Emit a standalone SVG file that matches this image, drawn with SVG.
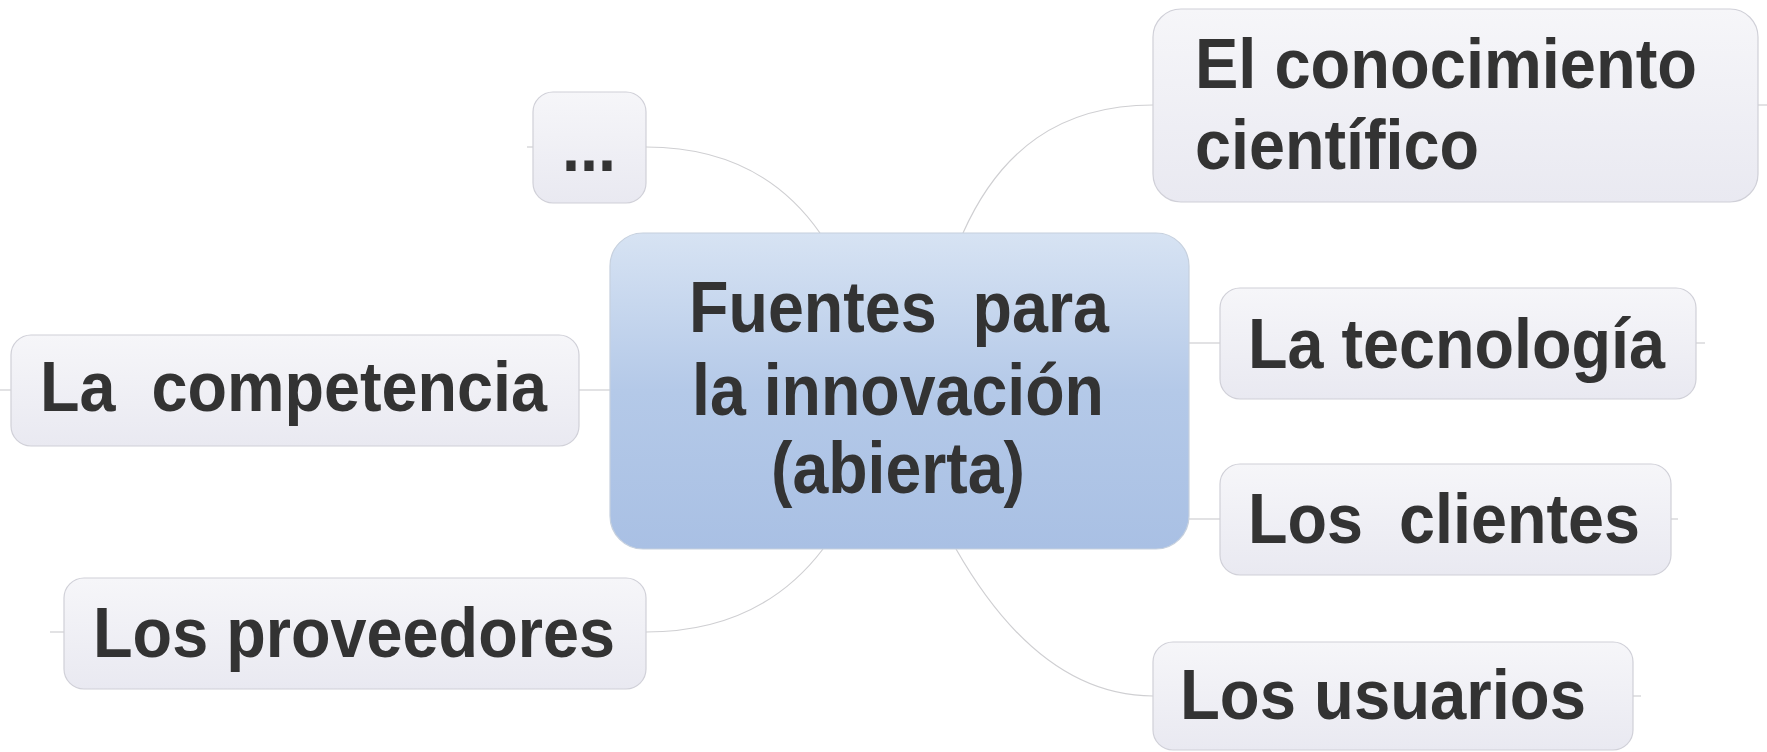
<svg xmlns="http://www.w3.org/2000/svg" width="1767" height="752" viewBox="0 0 1767 752">
<defs>
<linearGradient id="gNode" x1="0" y1="0" x2="0" y2="1">
<stop offset="0" stop-color="#f6f6f9"/>
<stop offset="1" stop-color="#e9e9f1"/>
</linearGradient>
<linearGradient id="gCenter" x1="0" y1="0" x2="0" y2="1">
<stop offset="0" stop-color="#d7e3f3"/>
<stop offset="0.5" stop-color="#b4c9e8"/>
<stop offset="1" stop-color="#a9c0e4"/>
</linearGradient>
<style>
.node{fill:url(#gNode);stroke:#d0d0d8;stroke-width:1.2}
.center{fill:url(#gCenter);stroke:#c6d0de;stroke-width:1.2}
.t{font-family:"Liberation Sans",Arial,sans-serif;font-weight:bold;font-size:71px;fill:#333333;white-space:pre}
.tc{font-family:"Liberation Sans",Arial,sans-serif;font-weight:bold;font-size:73px;fill:#333333;white-space:pre}
.c{fill:none;stroke:#cfcfd2;stroke-width:1.2}
</style>
</defs>
<rect width="1767" height="752" fill="#ffffff"/>
<g id="connectors">
<path class="c" d="M646,147 Q760,147 820,233"/>
<path class="c" d="M527,147 L533,147"/>
<path class="c" d="M963,233 C1000,150 1060,105 1153,105"/>
<path class="c" d="M1758,105 L1767,105"/>
<path class="c" d="M0,390 L11,390"/>
<path class="c" d="M579,390 L610,390"/>
<path class="c" d="M50,632 L64,632"/>
<path class="c" d="M646,632 Q760,632 823,549"/>
<path class="c" d="M1189,343 L1220,343"/>
<path class="c" d="M1696,343 L1705,343"/>
<path class="c" d="M1189,519 L1220,519"/>
<path class="c" d="M1671,519 L1678,519"/>
<path class="c" d="M956,549 Q1040,696 1153,696"/>
<path class="c" d="M1633,696 L1641,696"/>
</g>
<g id="center">
<rect class="center" x="610" y="233" width="579" height="316" rx="33"/>
<text class="tc" xml:space="preserve" x="689" y="332" textLength="420" lengthAdjust="spacingAndGlyphs">Fuentes  para</text>
<text class="tc" x="692" y="415" textLength="412" lengthAdjust="spacingAndGlyphs">la innovación</text>
<text class="tc" x="771" y="493" textLength="254" lengthAdjust="spacingAndGlyphs">(abierta)</text>
</g>
<g id="node-dots">
<rect class="node" x="533" y="92" width="113" height="111" rx="20"/>
<text class="t" x="562" y="171" textLength="54" lengthAdjust="spacingAndGlyphs">...</text>
</g>
<g id="node-conocimiento">
<rect class="node" x="1153" y="9" width="605" height="193" rx="28"/>
<text class="t" x="1195" y="88" textLength="502" lengthAdjust="spacingAndGlyphs">El conocimiento</text>
<text class="t" x="1195" y="169" textLength="284" lengthAdjust="spacingAndGlyphs">científico</text>
</g>
<g id="node-competencia">
<rect class="node" x="11" y="335" width="568" height="111" rx="20"/>
<text class="t" xml:space="preserve" x="40" y="411" textLength="507" lengthAdjust="spacingAndGlyphs">La  competencia</text>
</g>
<g id="node-proveedores">
<rect class="node" x="64" y="578" width="582" height="111" rx="20"/>
<text class="t" x="93" y="657" textLength="522" lengthAdjust="spacingAndGlyphs">Los proveedores</text>
</g>
<g id="node-tecnologia">
<rect class="node" x="1220" y="288" width="476" height="111" rx="20"/>
<text class="t" x="1248" y="368" textLength="417" lengthAdjust="spacingAndGlyphs">La tecnología</text>
</g>
<g id="node-clientes">
<rect class="node" x="1220" y="464" width="451" height="111" rx="20"/>
<text class="t" xml:space="preserve" x="1248" y="543" textLength="392" lengthAdjust="spacingAndGlyphs">Los  clientes</text>
</g>
<g id="node-usuarios">
<rect class="node" x="1153" y="642" width="480" height="108" rx="20"/>
<text class="t" x="1180" y="719" textLength="406" lengthAdjust="spacingAndGlyphs">Los usuarios</text>
</g>
</svg>
